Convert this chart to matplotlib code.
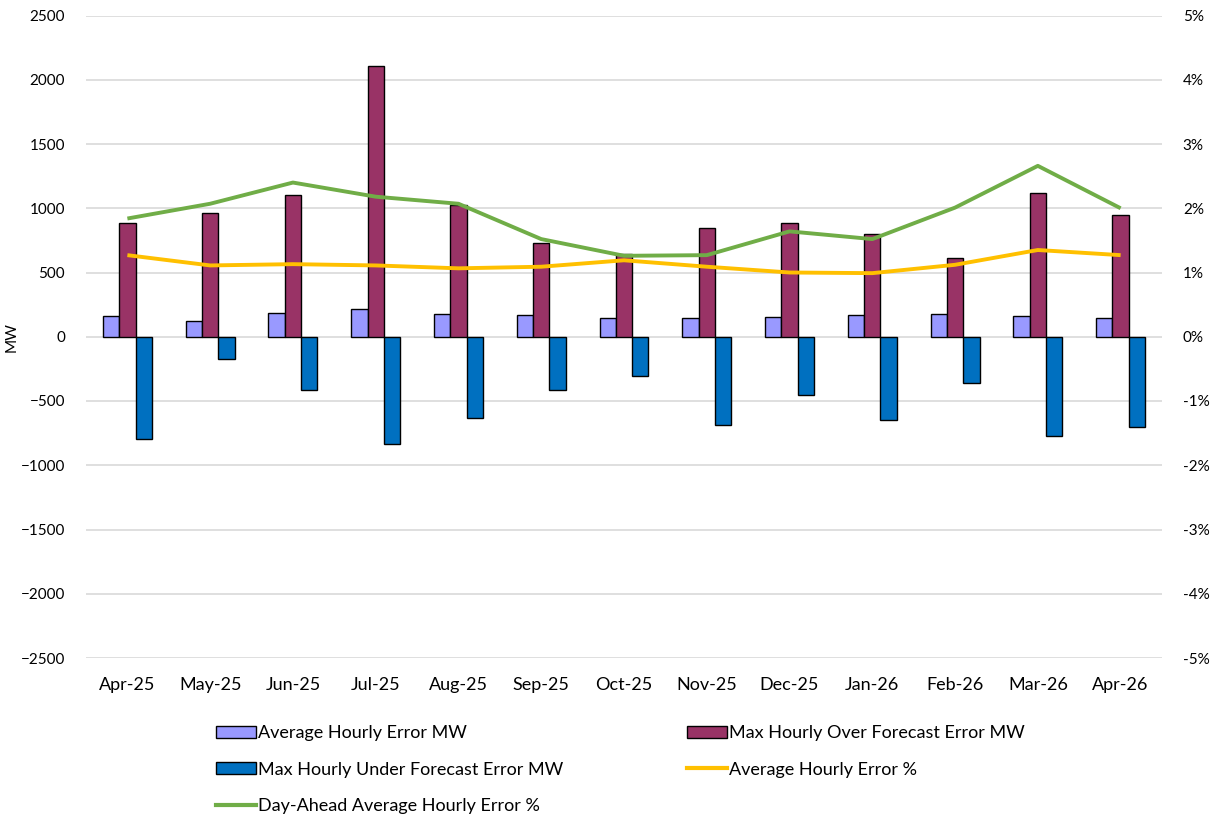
import matplotlib
matplotlib.use("Agg")
import matplotlib.pyplot as plt
import numpy as np
from matplotlib.patches import Patch
from matplotlib.lines import Line2D
from matplotlib.ticker import FuncFormatter

plt.rcParams['font.family'] = ['Lato', 'DejaVu Sans']

months = ["Apr-25", "May-25", "Jun-25", "Jul-25", "Aug-25", "Sep-25", "Oct-25",
          "Nov-25", "Dec-25", "Jan-26", "Feb-26", "Mar-26", "Apr-26"]
avg_error_mw = [164, 122, 185, 218, 177, 167, 143, 143, 156, 167, 177, 164, 143]
max_over_mw = [888, 961, 1106, 2106, 1028, 730, 647, 844, 888, 802, 615, 1119, 948]
max_under_mw = [-792, -174, -415, -833, -636, -415, -306, -688, -454, -644, -358, -771, -706]
avg_error_pct = [1.27, 1.11, 1.13, 1.11, 1.065, 1.09, 1.19, 1.09, 1.00, 0.99, 1.12, 1.35, 1.27]
da_avg_error_pct = [1.84, 2.07, 2.40, 2.18, 2.07, 1.52, 1.26, 1.27, 1.64, 1.52, 2.01, 2.66, 2.00]

labels = ["Average Hourly Error MW", "Max Hourly Over Forecast Error MW",
          "Max Hourly Under Forecast Error MW", "Average Hourly Error %",
          "Day-Ahead Average Hourly Error %"]

c_avg = "#9999FF"
c_over = "#993366"
c_under = "#0070C0"
c_pct = "#FFC000"
c_da = "#70AD47"

fig = plt.figure(figsize=(12.12, 8.18), dpi=100)
ax = fig.add_axes([86 / 1212, 1 - 658 / 818, (1162 - 86) / 1212, (658 - 15.5) / 818])
ax2 = ax.twinx()

x = np.arange(len(months))
w = 0.197
bar_kw = dict(width=w, edgecolor="black", linewidth=1.0, zorder=3)
ax.bar(x - w, avg_error_mw, color=c_avg, **bar_kw)
ax.bar(x, max_over_mw, color=c_over, **bar_kw)
ax.bar(x + w, max_under_mw, color=c_under, **bar_kw)

ax2.plot(x, avg_error_pct, color=c_pct, linewidth=2.8, solid_capstyle="butt")
ax2.plot(x, da_avg_error_pct, color=c_da, linewidth=2.8, solid_capstyle="butt")

ax.set_xlim(-0.5, len(months) - 0.5)
ax.set_ylim(-2500, 2500)
ax.set_yticks(np.arange(-2500, 2501, 500))
ax2.set_ylim(-5, 5)
ax2.set_yticks(np.arange(-5, 6, 1))
ax2.yaxis.set_major_formatter(FuncFormatter(lambda v, p: f"{int(round(v))}%"))

ax.set_xticks(x)
ax.set_xticklabels(months, fontsize=13)
ax.grid(axis="y", color="#D9D9D9", linewidth=1.2, zorder=0)
ax.set_axisbelow(True)

for a in (ax, ax2):
    for s in a.spines.values():
        s.set_visible(False)
    a.tick_params(length=0)
ax.tick_params(axis="y", labelsize=11, pad=15)
ax.tick_params(axis="x", pad=14)
ax2.tick_params(axis="y", labelsize=11, pad=15)

ax.set_ylabel("MW", fontsize=11)
ax.yaxis.set_label_coords(-0.063, 0.5)

handles = {
    labels[0]: Patch(facecolor=c_avg, edgecolor="black", linewidth=1.0),
    labels[1]: Patch(facecolor=c_over, edgecolor="black", linewidth=1.0),
    labels[2]: Patch(facecolor=c_under, edgecolor="black", linewidth=1.0),
    labels[3]: Line2D([], [], color=c_pct, linewidth=3),
    labels[4]: Line2D([], [], color=c_da, linewidth=3),
}

leg_kw = dict(frameon=False, fontsize=13, handlelength=2.2, handleheight=0.65,
              handletextpad=0.12, labelspacing=1.14, borderpad=0, borderaxespad=0)
col1 = [labels[0], labels[2], labels[4]]
col2 = [labels[1], labels[3]]
fig.legend([handles[k] for k in col1], col1, loc="upper left",
           bbox_to_anchor=(216 / 1212, 1 - 725 / 818), **leg_kw)
fig.legend([handles[k] for k in col2], col2, loc="upper left",
           bbox_to_anchor=(687 / 1212, 1 - 725 / 818), **leg_kw)

fig.savefig("out.png", dpi=100)
